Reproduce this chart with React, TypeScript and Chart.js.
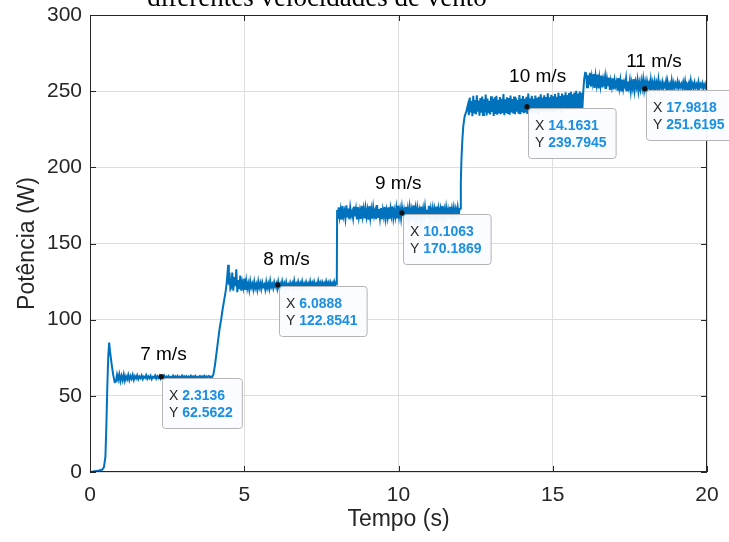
import React, { useEffect, useRef } from 'react';
import { Chart, registerables } from 'chart.js';

Chart.register(...registerables);

// ---------- DATA ----------
const chartTitle = 'diferentes velocidades de vento';
const xAxisTitle = 'Tempo (s)';
const yAxisTitle = 'Potência (W)';
const xTickValues = [0, 5, 10, 15, 20];
const yTickValues = [0, 50, 100, 150, 200, 250, 300];

// start-up transient
const startT = [0, 0.1, 0.2, 0.3, 0.4, 0.45, 0.5, 0.53, 0.56, 0.59, 0.62, 0.65, 0.7, 0.75, 0.8];
const startV = [0, 0.3, 0.7, 1.0, 1.6, 3, 10, 30, 55, 75, 85, 79, 71, 64, 59];

// 7 m/s plateau
const p7Range = [0.84, 3.96];
const p7 = [59.4, 63.9, 60.6, 64.2, 59.7, 63.1, 60.2, 64.0, 59.9, 62.8, 60.8, 63.7, 60.3, 63.0, 61.1, 63.8, 60.5, 62.9,
  61.4, 63.5, 60.9, 62.7, 61.6, 63.4, 61.0, 62.6, 61.8, 63.6, 61.2, 62.8, 61.5, 63.2, 61.0, 62.5, 61.9, 63.3, 61.3, 62.9,
  61.7, 63.1, 61.2, 62.6, 61.9, 63.4, 61.4, 62.7, 61.8, 63.0, 61.5, 62.5, 62.0, 63.2, 61.6, 62.8, 61.9, 63.1, 61.4, 62.6,
  62.1, 63.3, 61.7, 62.9, 62.0, 63.0, 61.6, 62.7, 62.2, 63.2, 61.8, 62.8, 62.1, 63.1, 61.9, 62.6, 62.3, 63.0, 61.8, 62.9,
  62.2, 63.2, 62.0, 62.8, 62.4, 63.0, 62.1, 62.7, 62.3];

// 7 -> 8 m/s transition
const rise8T = [4.0, 4.05, 4.1, 4.15, 4.2, 4.25, 4.3, 4.35, 4.4, 4.43, 4.46, 4.48, 4.5, 4.52, 4.55];
const rise8V = [64, 70, 78, 86, 94, 100, 107, 113, 119, 124, 131, 136, 123, 131, 120];

// 8 m/s plateau
const p8Range = [4.58, 7.98];
const p8 = [121, 131, 119, 128, 122, 133, 118, 126, 120, 129, 119, 124.5, 121, 127, 119.5, 125.5, 120.5, 123.8, 119.6,
  125.2, 121.3, 123.5, 119.9, 124.8, 120.7, 123.2, 119.7, 125.0, 121.1, 123.9, 120.2, 124.4, 121.6, 123.0, 119.8, 124.7,
  120.9, 123.6, 120.3, 125.3, 121.4, 123.3, 120.6, 124.5, 121.8, 123.7, 120.4, 124.9, 121.2, 123.4, 120.8, 125.1, 121.9,
  123.8, 120.5, 124.6, 121.5, 123.1, 121.0, 124.3, 122.0, 123.9, 120.7, 125.4, 121.7, 123.5, 121.1, 124.8, 122.2, 124.0,
  121.3, 125.0, 121.9, 123.6, 121.4, 124.7, 122.3, 123.8, 121.6, 125.2, 122.1, 124.1, 121.5, 124.9, 122.4, 123.7, 121.8,
  125.3, 122.0, 124.2, 121.7, 124.6, 122.5, 124.0, 121.9, 125.1, 122.3, 124.4, 122.0, 124.8, 122.6, 124.1, 122.2, 125.0,
  122.4, 124.5];

// 8 -> 9 m/s step
const rise9T = [8.0, 8.01];
const rise9V = [124, 172];

// 9 m/s plateau
const p9Range = [8.03, 11.98];
const p9 = [166.2, 173.8, 167.5, 172.1, 165.6, 174.5, 168.0, 171.2, 166.4, 175.0, 167.1, 172.9, 165.9, 173.4, 168.3,
  170.8, 166.7, 174.2, 167.8, 172.4, 165.8, 173.9, 167.3, 171.5, 166.1, 174.8, 168.1, 172.7, 166.5, 173.1, 167.6, 171.9,
  165.7, 174.6, 167.0, 172.2, 166.3, 173.6, 168.2, 171.4, 166.0, 175.3, 167.4, 172.6, 166.8, 173.3, 165.9, 172.0, 167.9,
  174.1, 166.6, 171.7, 167.2, 173.7, 166.2, 172.8, 168.4, 174.4, 166.9, 171.6, 167.5, 173.2, 166.4, 174.9, 167.8, 172.3,
  166.7, 173.5, 168.0, 171.8, 166.3, 174.0, 167.6, 172.5, 166.9, 173.8, 168.3, 172.1, 166.5, 175.1, 167.7, 172.9, 167.1,
  173.4, 168.5, 171.9, 166.8, 174.3, 167.9, 172.6, 167.2, 173.9, 168.1, 172.2, 166.6, 174.7, 167.4, 172.8, 168.6, 173.1,
  167.0, 172.4, 168.2, 174.2, 167.5, 173.0, 168.8, 172.7, 167.3, 174.5, 168.0, 172.3, 167.8, 173.6, 168.4, 172.0, 167.6,
  174.1, 168.7, 172.9, 167.9, 173.3, 168.3, 172.5, 168.9, 173.7, 168.1, 172.8];

// 9 -> 10 m/s transition
const rise10T = [12.0, 12.02, 12.04, 12.07, 12.1, 12.14, 12.2, 12.25];
const rise10V = [173, 190, 205, 218, 227, 233, 237, 241];

// 10 m/s plateau
const p10Range = [12.28, 15.99];
const p10 = [234.2, 245.8, 236.1, 243.5, 233.6, 246.9, 235.4, 244.2, 234.8, 247.3, 236.5, 243.9, 233.9, 245.5, 235.8,
  246.4, 234.4, 244.7, 236.2, 247.8, 234.0, 245.1, 235.6, 243.6, 234.7, 246.6, 236.3, 244.9, 233.8, 245.9, 235.1, 247.0,
  234.5, 244.3, 236.0, 246.2, 234.9, 245.0, 235.7, 248.1, 234.3, 244.6, 236.4, 246.0, 235.0, 245.4, 234.6, 247.2, 236.1,
  244.8, 235.3, 246.5, 234.8, 245.7, 236.6, 244.4, 235.2, 247.5, 234.9, 245.2, 236.8, 246.8, 235.5, 244.9, 236.0, 246.3,
  235.1, 248.4, 236.7, 245.3, 235.6, 246.9, 236.2, 245.0, 235.9, 247.1, 236.9, 245.6, 235.7, 246.4, 237.1, 247.9, 236.3,
  245.8, 236.8, 247.3, 236.0, 246.1, 237.3, 248.6, 236.5, 245.9, 237.0, 247.6, 236.4, 246.7, 237.6, 248.2, 236.9, 246.3,
  237.2, 249.0, 237.8, 246.8, 236.7, 248.5, 237.5, 247.2, 238.1, 249.3, 237.3, 247.5, 238.4, 248.8, 237.7, 249.6, 238.2,
  247.9, 238.6, 249.1, 237.9, 250.2, 238.8, 248.4, 238.3, 249.7, 239.0, 248.9, 238.6, 250.0];

// 10 -> 11 m/s step
const rise11T = [16.02, 16.05];
const rise11V = [258, 262];

// 11 m/s plateau
const p11Range = [16.08, 20.0];
const p11 = [261.8, 252.6, 260.5, 254.1, 262.0, 253.0, 259.4, 255.2, 261.2, 252.2, 259.8, 254.6, 260.9, 251.8, 258.7,
  253.7, 260.2, 252.4, 258.1, 254.9, 259.6, 251.5, 257.9, 253.3, 258.9, 250.8, 256.7, 252.9, 258.4, 251.2, 257.3, 253.6,
  256.2, 250.4, 258.6, 252.1, 256.9, 249.9, 257.6, 251.7, 255.8, 253.1, 258.2, 250.6, 256.4, 252.5, 257.0, 250.1, 255.6,
  251.9, 258.0, 250.7, 256.1, 252.8, 257.4, 250.3, 255.3, 251.4, 256.8, 252.3, 257.7, 250.9, 255.9, 251.6, 256.5, 252.7,
  255.1, 250.5, 257.2, 251.8, 255.7, 252.0, 256.3, 250.8, 255.4, 252.4, 257.5, 251.1, 255.0, 252.6, 256.0, 251.3, 254.8,
  252.9, 256.6, 251.5, 255.2, 252.2, 254.6, 251.0, 256.9, 252.5, 255.5, 251.7, 254.9, 253.0, 256.2, 251.4, 255.1, 252.8,
  254.7, 251.9, 255.8, 252.1, 256.4, 251.6, 254.5, 252.7, 255.3, 251.2, 256.7, 252.3, 254.8, 251.8, 255.6, 252.6, 254.4,
  251.5, 255.9, 252.0, 254.6, 252.9, 255.2, 251.7, 254.3, 252.4, 255.0, 252.1];

// wind speed labels
const windLabels = ['7 m/s', '8 m/s', '9 m/s', '10 m/s', '11 m/s'];
const windLabelX = [2.38, 6.37, 9.99, 14.51, 18.28];
const windLabelY = [76.8, 139.2, 189.1, 259.4, 269.2];

// data tips
const tipX = [2.3136, 6.0888, 10.1063, 14.1631, 17.9818];
const tipY = [62.5622, 122.8541, 170.1869, 239.7945, 251.6195];
const tipXText = ['2.3136', '6.0888', '10.1063', '14.1631', '17.9818'];
const tipYText = ['62.5622', '122.8541', '170.1869', '239.7945', '251.6195'];

// ---------- BUILD ----------
function pairs(ts: number[], vs: number[]) {
  return ts.map((t, i) => ({ x: t, y: vs[i] }));
}
function spread(range: number[], vs: number[]) {
  const n = vs.length;
  return vs.map((v, i) => ({ x: range[0] + (i * (range[1] - range[0])) / (n - 1), y: v }));
}

const points = [
  ...pairs(startT, startV),
  ...spread(p7Range, p7),
  ...pairs(rise8T, rise8V),
  ...spread(p8Range, p8),
  ...pairs(rise9T, rise9V),
  ...spread(p9Range, p9),
  ...pairs(rise10T, rise10V),
  ...spread(p10Range, p10),
  ...pairs(rise11T, rise11V),
  ...spread(p11Range, p11),
];

const SANS = '"Liberation Sans", Arial, Helvetica, sans-serif';
const SERIF = '"Liberation Serif", "Times New Roman", serif';
const AXIS = '#262626';

const overlayPlugin = {
  id: 'matlabOverlay',
  afterDatasetsDraw(chart: any) {
    const { ctx, chartArea } = chart;
    const xs = chart.scales.x;
    const ys = chart.scales.y;
    const { left, right, top, bottom } = chartArea;
    ctx.save();
    ctx.strokeStyle = AXIS;
    ctx.lineWidth = 1;
    ctx.strokeRect(left + 0.5, top + 0.5, right - left - 1, bottom - top - 1);
    ctx.beginPath();
    xTickValues.forEach((v) => {
      const px = Math.round(xs.getPixelForValue(v)) + 0.5;
      ctx.moveTo(px, bottom);
      ctx.lineTo(px, bottom - 6);
      ctx.moveTo(px, top);
      ctx.lineTo(px, top + 6);
    });
    yTickValues.forEach((v) => {
      const py = Math.round(ys.getPixelForValue(v)) + 0.5;
      ctx.moveTo(left, py);
      ctx.lineTo(left + 6, py);
      ctx.moveTo(right, py);
      ctx.lineTo(right - 6, py);
    });
    ctx.stroke();

    ctx.fillStyle = '#000';
    ctx.font = `19px ${SANS}`;
    ctx.textAlign = 'center';
    ctx.textBaseline = 'middle';
    windLabels.forEach((t, i) => {
      ctx.fillText(t, xs.getPixelForValue(windLabelX[i]), ys.getPixelForValue(windLabelY[i]));
    });

    tipX.forEach((tx, i) => {
      const px = xs.getPixelForValue(tx);
      const py = ys.getPixelForValue(tipY[i]);
      ctx.font = `14px ${SANS}`;
      const wX = ctx.measureText('X ').width;
      const wY = ctx.measureText('Y ').width;
      ctx.font = `bold 14px ${SANS}`;
      const nX = ctx.measureText(tipXText[i]).width;
      const nY = ctx.measureText(tipYText[i]).width;
      const w = 7 + Math.max(wX + nX, wY + nY) + 9;
      const h = 50;
      const bx = Math.round(px) + 1.5;
      const by = Math.round(py) + 1.5;
      ctx.beginPath();
      ctx.roundRect(bx, by, w, h, 3);
      ctx.fillStyle = 'rgba(250,252,255,0.95)';
      ctx.fill();
      ctx.strokeStyle = '#b4b4b4';
      ctx.lineWidth = 1;
      ctx.stroke();
      ctx.textAlign = 'left';
      ctx.textBaseline = 'middle';
      ctx.font = `14px ${SANS}`;
      ctx.fillStyle = AXIS;
      ctx.fillText('X ', bx + 6.5, by + 17.5);
      ctx.fillText('Y ', bx + 6.5, by + 34.5);
      ctx.font = `bold 14px ${SANS}`;
      ctx.fillStyle = '#1a8fe3';
      ctx.fillText(tipXText[i], bx + 6.5 + wX, by + 17.5);
      ctx.fillText(tipYText[i], bx + 6.5 + wY, by + 34.5);
      ctx.beginPath();
      ctx.arc(px, py, 2.6, 0, Math.PI * 2);
      ctx.fillStyle = '#111';
      ctx.fill();
    });

    ctx.fillStyle = '#000';
    ctx.font = `27px ${SERIF}`;
    ctx.textAlign = 'center';
    ctx.textBaseline = 'alphabetic';
    ctx.fillText(chartTitle, 317, 6);
    ctx.restore();
  },
};

export default function App() {
  const ref = useRef<HTMLCanvasElement | null>(null);
  useEffect(() => {
    if (!ref.current) return;
    const chart = new Chart(ref.current, {
      type: 'line',
      data: {
        datasets: [
          {
            data: points,
            borderColor: '#0072BD',
            borderWidth: 2,
            pointRadius: 0,
            tension: 0,
            fill: false,
          },
        ],
      },
      options: {
        animation: false,
        responsive: true,
        maintainAspectRatio: false,
        layout: { padding: { left: 0, right: 22, top: 15, bottom: 0 } },
        plugins: { legend: { display: false }, tooltip: { enabled: false }, title: { display: false } },
        scales: {
          x: {
            type: 'linear',
            min: 0,
            max: 20,
            afterBuildTicks: (s: any) => {
              s.ticks = xTickValues.map((v) => ({ value: v }));
            },
            afterFit: (s: any) => {
              s.height = 70;
              s.paddingLeft = 0;
              s.paddingRight = 0;
            },
            grid: { color: '#dedede', drawTicks: false, lineWidth: 1 },
            border: { display: false },
            ticks: { color: AXIS, font: { family: SANS, size: 21 }, padding: 11, maxRotation: 0 },
            title: {
              display: true,
              text: xAxisTitle,
              color: AXIS,
              font: { family: SANS, size: 23 },
              padding: { top: 0, bottom: 9 },
            },
          },
          y: {
            type: 'linear',
            min: 0,
            max: 300,
            afterBuildTicks: (s: any) => {
              s.ticks = yTickValues.map((v) => ({ value: v }));
            },
            afterFit: (s: any) => {
              s.width = 90;
              s.paddingTop = 0;
              s.paddingBottom = 0;
            },
            grid: { color: '#dedede', drawTicks: false, lineWidth: 1 },
            border: { display: false },
            ticks: { color: AXIS, font: { family: SANS, size: 21 }, padding: 8 },
            title: {
              display: true,
              text: yAxisTitle,
              color: AXIS,
              font: { family: SANS, size: 23 },
              padding: { top: 14, bottom: 0 },
            },
          },
        },
      },
      plugins: [overlayPlugin],
    });
    return () => chart.destroy();
  }, []);
  return (
    <div style={{ position: 'fixed', left: 0, top: 0, width: 729, height: 542, background: '#fff' }}>
      <canvas ref={ref} />
    </div>
  );
}
